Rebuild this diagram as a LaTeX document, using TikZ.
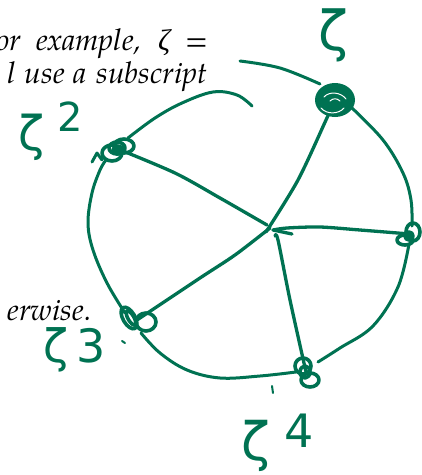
\documentclass[tikz,border=0pt]{standalone}
\usepackage{fontspec}
\newfontfamily\pag{texgyrepagella}[Extension=.otf, UprightFont=*-regular, ItalicFont=*-italic]
\newfontfamily\grk{Liberation Serif}
\newfontfamily\hand{DejaVu Sans}
\definecolor{ink}{RGB}{0,114,82}
\begin{document}
\begin{tikzpicture}[x=1pt,y=-1pt,line cap=round,line join=round,
  pen/.style={draw=ink,line width=3pt},
  loop/.style={draw=ink,line width=3.6pt},
  spoke/.style={draw=ink,line width=3.3pt},
  txtline/.style={anchor=base west,inner sep=0pt,font=\pag\itshape\fontsize{30}{36}\selectfont},
  lbl/.style={text=ink,inner sep=0pt,anchor=center}]
\useasboundingbox (0,0) rectangle (422,475);
% printed text (justified lines)
\node[txtline] (t1) at (-4,50) {\makebox[212pt][s]{or example, {\grk ζ} =}};
\node[txtline] (t2) at (7,83) {\makebox[200pt][s]{l use a subscript}};
\node[txtline,anchor=base east] (t3) at (92,320) {erwise.};
% points
\coordinate (z1) at (335,100);
\coordinate (z2) at (118,149);
\coordinate (z3) at (137,320);
\coordinate (z4) at (306,372);
\coordinate (z0) at (410,234);
\coordinate (c) at (268,228);
% circle arcs
\draw[pen] plot[smooth,tension=0.6] coordinates {(128,138) (155,118) (182,103) (213,92) (237,95) (252,106)};
\draw[pen] plot[smooth,tension=0.6] coordinates {(240,61) (280,68) (320,84)};
\draw[pen] plot[smooth,tension=0.6] coordinates {(352,108) (383,140) (403,173) (411,200) (412,226)};
\draw[pen] plot[smooth,tension=0.6] coordinates {(409,244) (398,287) (373,326) (340,348) (318,362)};
\draw[pen] plot[smooth,tension=0.6] coordinates {(296,372) (260,376) (220,378) (187,370) (160,353) (141,333)};
\draw[pen] plot[smooth,tension=0.6] coordinates {(125,313) (107,283) (93,250) (88,223) (92,193) (100,170) (106,160)};
% spokes
\draw[spoke] plot[smooth,tension=0.5] coordinates {(z2) (175,173) (220,198) (267,225)};
\draw[spoke] plot[smooth,tension=0.5] coordinates {(z1) (326,120) (298,180) (266,232)};
\draw[spoke] plot[smooth,tension=0.5] coordinates {(z0) (360,230) (320,227) (287,228) (273,230)};
\draw[spoke] (273,230) -- (292,234);
\draw[spoke] plot[smooth,tension=0.5] coordinates {(270,228) (235,255) (200,278) (z3)};
\draw[spoke] plot[smooth,tension=0.5] coordinates {(275,236) (278,240) (290,300) (z4)};
% blobs
\fill[ink] (z1) ellipse (20 and 17);
\draw[white,line width=1pt] (324,97) .. controls (329,91) and (341,92) .. (346,99);
\draw[white,line width=1pt] (321,108) .. controls (327,115) and (339,114) .. (344,108);
\draw[white,line width=1pt] (330,101) .. controls (333,98) and (337,98) .. (340,101);
\draw[loop] (112,153) ellipse (10 and 8);
\draw[loop] (124,146) ellipse (10 and 7);
\draw[loop] (118,150) ellipse (5 and 4);
\draw[loop] (117,148) ellipse (8 and 6);
\draw[pen] (92,162) -- (97,153) -- (102,160);
\draw[loop,rotate around={30:(129,318)}] (129,318) ellipse (6 and 12);
\draw[loop,rotate around={30:(131,318)}] (131,318) ellipse (3 and 8);
\draw[loop] (146,322) ellipse (10 and 9);
\draw[loop] (303,366) ellipse (8 and 8);
\draw[loop] (310,380) ellipse (9 and 7);
\draw[loop] (305,372) ellipse (5 and 6);
\draw[loop] (413,232) ellipse (7 and 9);
\draw[loop] (405,240) ellipse (8 and 5);
\draw[loop] (409,236) ellipse (4 and 4);
% stray marks
\draw[ink,line width=2pt] (122,341) -- (125,343);
\draw[ink,line width=2pt] (272,386) -- (273,393);
% labels
\node[lbl,font=\hand\fontsize{55}{60}\selectfont] (l1) at (333,35) {ζ};
\node[lbl,font=\hand\fontsize{48}{52}\selectfont] (l2) at (32,137) {ζ};
\node[lbl,font=\hand\fontsize{40}{44}\selectfont] (l2s) at (70,117) {2};
\node[lbl,font=\hand\fontsize{46}{50}\selectfont] (l3) at (56,350) {ζ};
\node[lbl,font=\hand\fontsize{46}{50}\selectfont] (l3s) at (91,346) {3};
\node[lbl,font=\hand\fontsize{53}{58}\selectfont] (l4) at (256,446) {ζ};
\node[lbl,font=\hand\fontsize{46}{50}\selectfont] (l4s) at (299,431) {4};
\end{tikzpicture}
\end{document}
